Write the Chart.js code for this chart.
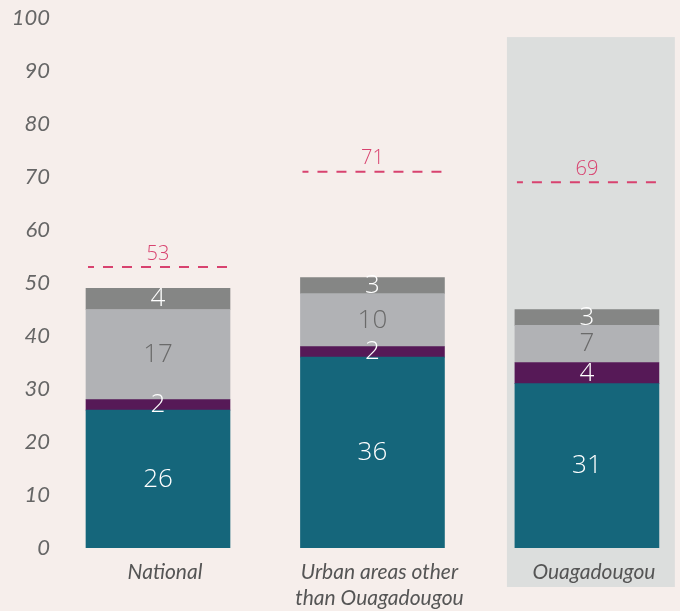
<!DOCTYPE html>
<html>
<head>
<meta charset="utf-8">
<script src="https://cdn.jsdelivr.net/npm/chart.js@4"></script>
<style>
  html, body { margin: 0; padding: 0; background: #f6eeeb; overflow: hidden; }
  #wrap { width: 680px; height: 611px; }
</style>
</head>
<body>
<div id="wrap"><canvas id="chart"></canvas></div>
<script>
// Data:
var categories = ['National', ['Urban areas other', 'than Ouagadougou'], 'Ouagadougou'];
var teal = [26, 36, 31];
var purple = [2, 2, 4];
var lightGrey = [17, 10, 7];
var darkGrey = [4, 3, 3];
var targets = [53, 71, 69];
var highlighted = 2;

function points(values) {
    return values.map(function (v, i) { return {x: i, y: v}; });
}

// Shaded panel behind the highlighted category (drawn before the axes)
var highlightPlugin = {
    id: 'highlight',
    beforeDraw: function (chart) {
        var ctx = chart.ctx, x = chart.scales.x, y = chart.scales.y;
        var left = x.getPixelForValue(highlighted - 0.373);
        var right = x.getPixelForValue(highlighted + 0.41);
        var top = y.getPixelForValue(96.4);
        var bottom = chart.chartArea.bottom + 39;
        ctx.save();
        ctx.fillStyle = '#dcdedd';
        ctx.fillRect(left, top, right - left, bottom - top);
        ctx.restore();
    }
};

// Dashed target lines with their value on top
var targetPlugin = {
    id: 'targets',
    afterDatasetsDraw: function (chart) {
        var ctx = chart.ctx, x = chart.scales.x, y = chart.scales.y;
        ctx.save();
        for (var i = 0; i < targets.length; i++) {
            var cx = x.getPixelForValue(i);
            var py = y.getPixelForValue(targets[i]);
            ctx.strokeStyle = '#d8426f';
            ctx.lineWidth = 2;
            ctx.setLineDash([10, 9]);
            ctx.lineDashOffset = 4;
            ctx.beginPath();
            ctx.moveTo(cx - 70, py);
            ctx.lineTo(cx + 70, py);
            ctx.stroke();
            ctx.setLineDash([]);
            ctx.fillStyle = '#d8426f';
            ctx.font = '300 20px "Open Sans"';
            ctx.textAlign = 'center';
            ctx.textBaseline = 'bottom';
            ctx.fillText(targets[i], cx, py - 3);
        }
        ctx.restore();
    }
};

// Segment value labels
var labelPlugin = {
    id: 'segLabels',
    afterDatasetsDraw: function (chart) {
        var ctx = chart.ctx;
        ctx.save();
        ctx.font = '300 26px "Open Sans"';
        ctx.textAlign = 'center';
        ctx.textBaseline = 'middle';
        chart.data.datasets.forEach(function (ds, di) {
            var meta = chart.getDatasetMeta(di);
            meta.data.forEach(function (bar, i) {
                ctx.fillStyle = ds.labelColor;
                ctx.fillText(ds.data[i].y, bar.x, (bar.y + bar.base) / 2);
            });
        });
        ctx.restore();
    }
};

new Chart(document.getElementById('chart'), {
    type: 'bar',
    data: {
        datasets: [
            {data: points(teal), backgroundColor: '#15667b', labelColor: '#ffffff'},
            {data: points(purple), backgroundColor: '#561957', labelColor: '#ffffff'},
            {data: points(lightGrey), backgroundColor: '#b1b2b5', labelColor: '#6a6a6a'},
            {data: points(darkGrey), backgroundColor: '#858685', labelColor: '#ffffff'}
        ]
    },
    options: {
        responsive: true,
        maintainAspectRatio: false,
        animation: false,
        layout: {padding: {top: 18, right: 0, left: 0, bottom: 0}},
        datasets: {bar: {barThickness: 144, borderWidth: 0}},
        plugins: {legend: {display: false}, tooltip: {enabled: false}},
        scales: {
            x: {
                type: 'linear',
                stacked: true,
                offset: false,
                min: -0.4476,
                max: 2.434,
                grid: {display: false},
                border: {display: false},
                afterFit: function (scale) { scale.height = 63; },
                ticks: {
                    stepSize: 1,
                    includeBounds: false,
                    autoSkip: false,
                    maxRotation: 0,
                    padding: 3,
                    labelOffset: 7,
                    color: '#555555',
                    font: {family: 'Lato', style: 'italic', size: 21, lineHeight: 1.25},
                    callback: function (v) { return categories[v]; }
                }
            },
            y: {
                stacked: true,
                min: 0,
                max: 100,
                grid: {display: false},
                border: {display: false},
                afterFit: function (scale) { scale.width = 62; },
                ticks: {
                    stepSize: 10,
                    padding: 4,
                    color: '#666666',
                    font: {family: 'Lato', style: 'italic', size: 22}
                }
            }
        }
    },
    plugins: [highlightPlugin, targetPlugin, labelPlugin]
});
</script>
</body>
</html>
